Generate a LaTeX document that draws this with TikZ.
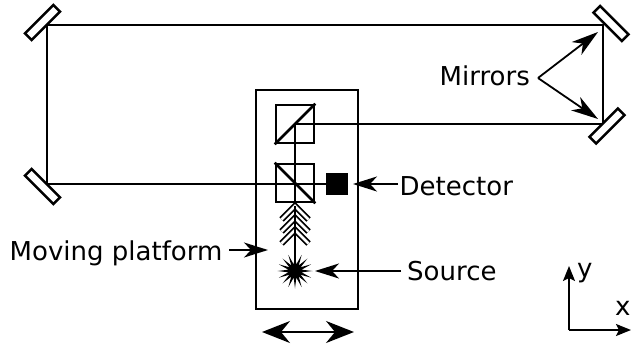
\documentclass[tikz,border=0pt]{standalone}
\usepackage{fontspec}
\setmainfont{DejaVu Sans}
\usetikzlibrary{arrows.meta,shapes.geometric}
\begin{document}
\begin{tikzpicture}[x=1pt,y=-1pt,
  beam/.style={line width=2.5pt},
  mirror/.style={rectangle,draw,line width=2.5pt,fill=white,minimum width=40pt,minimum height=9.5pt,inner sep=0},
  bsbox/.style={rectangle,draw,line width=2.7pt,minimum size=38pt,inner sep=0},
  lab/.style={font=\fontsize{26}{30}\selectfont,inner sep=0,anchor=base west},
  pointer/.style={line width=1.8pt,-{Stealth[length=24pt,width=15pt,inset=7pt]}},
  bigpointer/.style={line width=1.8pt,-{Stealth[length=27pt,width=16pt,inset=8pt]}},
  chev/.style={double,line width=1.7pt,double distance=2.8pt},
  axis/.style={line width=1.8pt,-{Stealth[length=15pt,width=12pt,inset=3pt]}},
]
\useasboundingbox (0,0) rectangle (631,345);

% platform
\node[rectangle,draw,line width=2.9pt,minimum width=102pt,minimum height=219pt,inner sep=0] (plat) at (307,199.5) {};

% beam path corners
\coordinate (tl) at (47,25);
\coordinate (tr) at (603,25);
\coordinate (br) at (603,124);
\coordinate (bl) at (47,184);
\coordinate (r1) at (295,124);

% source, detector
\node[star,star points=16,star point ratio=2.6,fill,minimum size=35pt,inner sep=0] (src) at (295,271) {};
\node[rectangle,fill,minimum size=22pt,inner sep=0] (det) at (337,184) {};

% beams
\draw[beam] (src.center) -- (r1) -- (br) -- (tr) -- (tl) -- (bl) -- (det.west);

% chevrons
\coordinate (c1) at (295,206);
\coordinate (c2) at (295,218);
\coordinate (c3) at (295,230);
\foreach \c in {c1,c2,c3}{
  \draw[chev] ([shift={(-13.5,13.5)}]\c) -- (\c) -- ([shift={(13.5,13.5)}]\c);
}
\draw[beam] (c1) -- (src.center);

% beam splitters
\node[bsbox] (bs1) at (295,124) {};
\draw[line width=2.5pt] (bs1.south west) -- (bs1.north east);
\node[bsbox] (bs2) at (295,183) {};
\draw[line width=2.5pt] (bs2.north west) -- (bs2.south east);

% mirrors
\node[mirror,rotate=45] (mtl) at (42.5,22.5) {};
\node[mirror,rotate=-45] (mtr) at (611,23.5) {};
\node[mirror,rotate=45] (mbr) at (607,126) {};
\node[mirror,rotate=-45] (mbl) at (42.5,186.5) {};

% labels
\node[lab] (mirlab) at (439.5,85) {Mirrors};
\coordinate (mapex) at (538,78);
\coordinate (mtip1) at (598,32);
\coordinate (mtip2) at (598,119);
\draw[bigpointer] (mapex) -- (mtip1);
\draw[bigpointer] (mapex) -- (mtip2);

\node[lab] (detlab) at (399.5,195) {Detector};
\coordinate (detstart) at (398,184);
\coordinate (dettip) at (353,184);
\draw[pointer] (detstart) -- (dettip);

\node[lab] (srclab) at (407,280) {Source};
\coordinate (srcstart) at (401,271);
\coordinate (srctip) at (315,271);
\draw[pointer] (srcstart) -- (srctip);

\node[lab] (movlab) at (9.5,260) {Moving platform};
\coordinate (movstart) at (229,250);
\coordinate (movtip) at (268,250);
\draw[pointer] (movstart) -- (movtip);

% motion arrow
\coordinate (ml) at (262,332);
\coordinate (mr) at (354,332);
\draw[line width=1.9pt,{Stealth[length=28pt,width=22pt,inset=9pt]}-{Stealth[length=28pt,width=22pt,inset=9pt]}] (ml) -- (mr);

% axes
\coordinate (o) at (569,330);
\coordinate (ytip) at (569,266);
\coordinate (xtip) at (631,330);
\draw[axis] (o) -- (ytip);
\draw[axis] (o) -- (xtip);
\node[lab] (ylab) at (577,277) {y};
\node[lab] (xlab) at (615,315) {x};
\end{tikzpicture}
\end{document}
